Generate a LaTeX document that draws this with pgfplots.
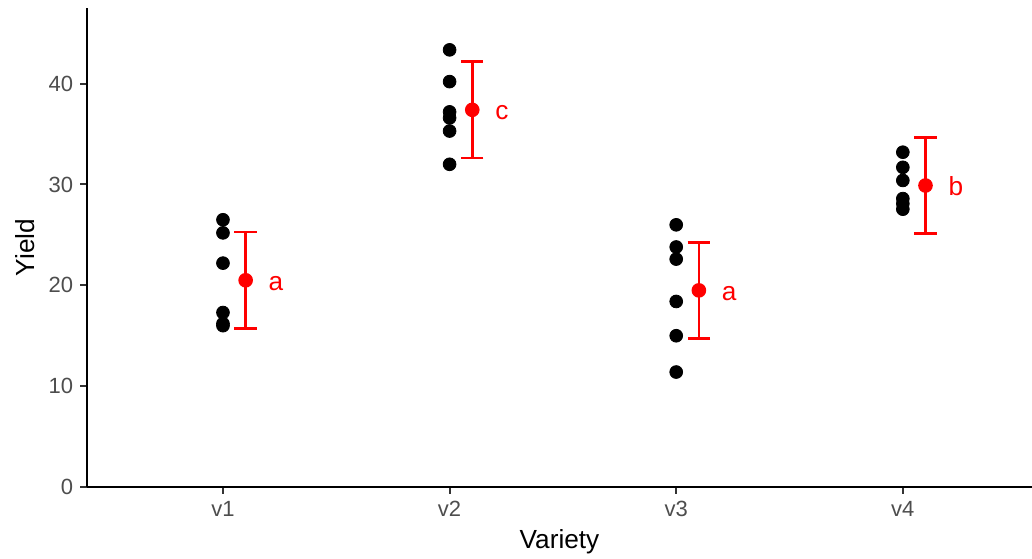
\documentclass[border=0pt]{standalone}
\usepackage{pgfplots}
\pgfplotsset{compat=1.18}
\usepackage{fontspec}
\setmainfont{Liberation Sans}
\definecolor{ticktext}{HTML}{4D4D4D}
\definecolor{tickline}{HTML}{333333}

\begin{document}
\begin{tikzpicture}
\begin{axis}[
  scale only axis,
  width=472.5pt, height=239.5pt,
  xmin=0.4, xmax=4.57,
  ymin=0, ymax=47.5,
  axis x line*=bottom, axis y line*=left,
  axis line style={line width=1pt, black},
  xtick={1,2,3,4}, xticklabels={v1,v2,v3,v4},
  ytick={0,10,20,30,40},
  tick align=outside,
  major tick length=3.4pt,
  tick style={line width=1pt, tickline},
  tick label style={font=\fontsize{11}{12}\selectfont, text=ticktext},
  /pgf/number format/assume math mode=true,
  xlabel={Variety}, ylabel={Yield},
  label style={font=\fontsize{13.1}{15}\selectfont},
  xlabel style={at={(axis description cs:0.5,-0.1294)}, anchor=base},
  ylabel style={at={(axis description cs:-0.056,0.5)}, anchor=base},
  clip=false,
]
% individual observations
\addplot[only marks, mark=*, mark size=3.2pt, black] coordinates {
  (1,26.5) (1,25.2) (1,22.2) (1,17.3) (1,16.2) (1,16.0)
  (2,43.35) (2,40.2) (2,37.2) (2,36.6) (2,35.3) (2,32.0)
  (3,26.0) (3,23.8) (3,22.6) (3,18.4) (3,15.0) (3,11.4)
  (4,33.2) (4,31.7) (4,30.4) (4,28.6) (4,28.1) (4,27.55)
};
% means with error bars
\addplot[only marks, mark=*, mark size=3pt, red, line width=1.3pt,
  error bars/.cd, y dir=both, y explicit, error mark=|,
  error bar style={line width=1.3pt, red, solid},
  error mark options={line width=1.3pt, mark size=5.6pt, red}]
  coordinates {
  (1.1,20.5) +- (0,4.77)
  (2.1,37.4) +- (0,4.77)
  (3.1,19.5) +- (0,4.77)
  (4.1,29.9) +- (0,4.77)
};
% group letters
\node[red, anchor=base west, inner sep=0pt, yshift=-5pt, font=\fontsize{13.1}{15}\selectfont] at (axis cs:1.2,20.5) {a};
\node[red, anchor=base west, inner sep=0pt, yshift=-5pt, font=\fontsize{13.1}{15}\selectfont] at (axis cs:2.2,37.4) {c};
\node[red, anchor=base west, inner sep=0pt, yshift=-5pt, font=\fontsize{13.1}{15}\selectfont] at (axis cs:3.2,19.5) {a};
\node[red, anchor=base west, inner sep=0pt, yshift=-5pt, font=\fontsize{13.1}{15}\selectfont] at (axis cs:4.2,29.9) {b};
\end{axis}
\pgfresetboundingbox
\path[use as bounding box] (-43.5pt,-35.5pt) rectangle (472.5pt,243.5pt);
\end{tikzpicture}
\end{document}
